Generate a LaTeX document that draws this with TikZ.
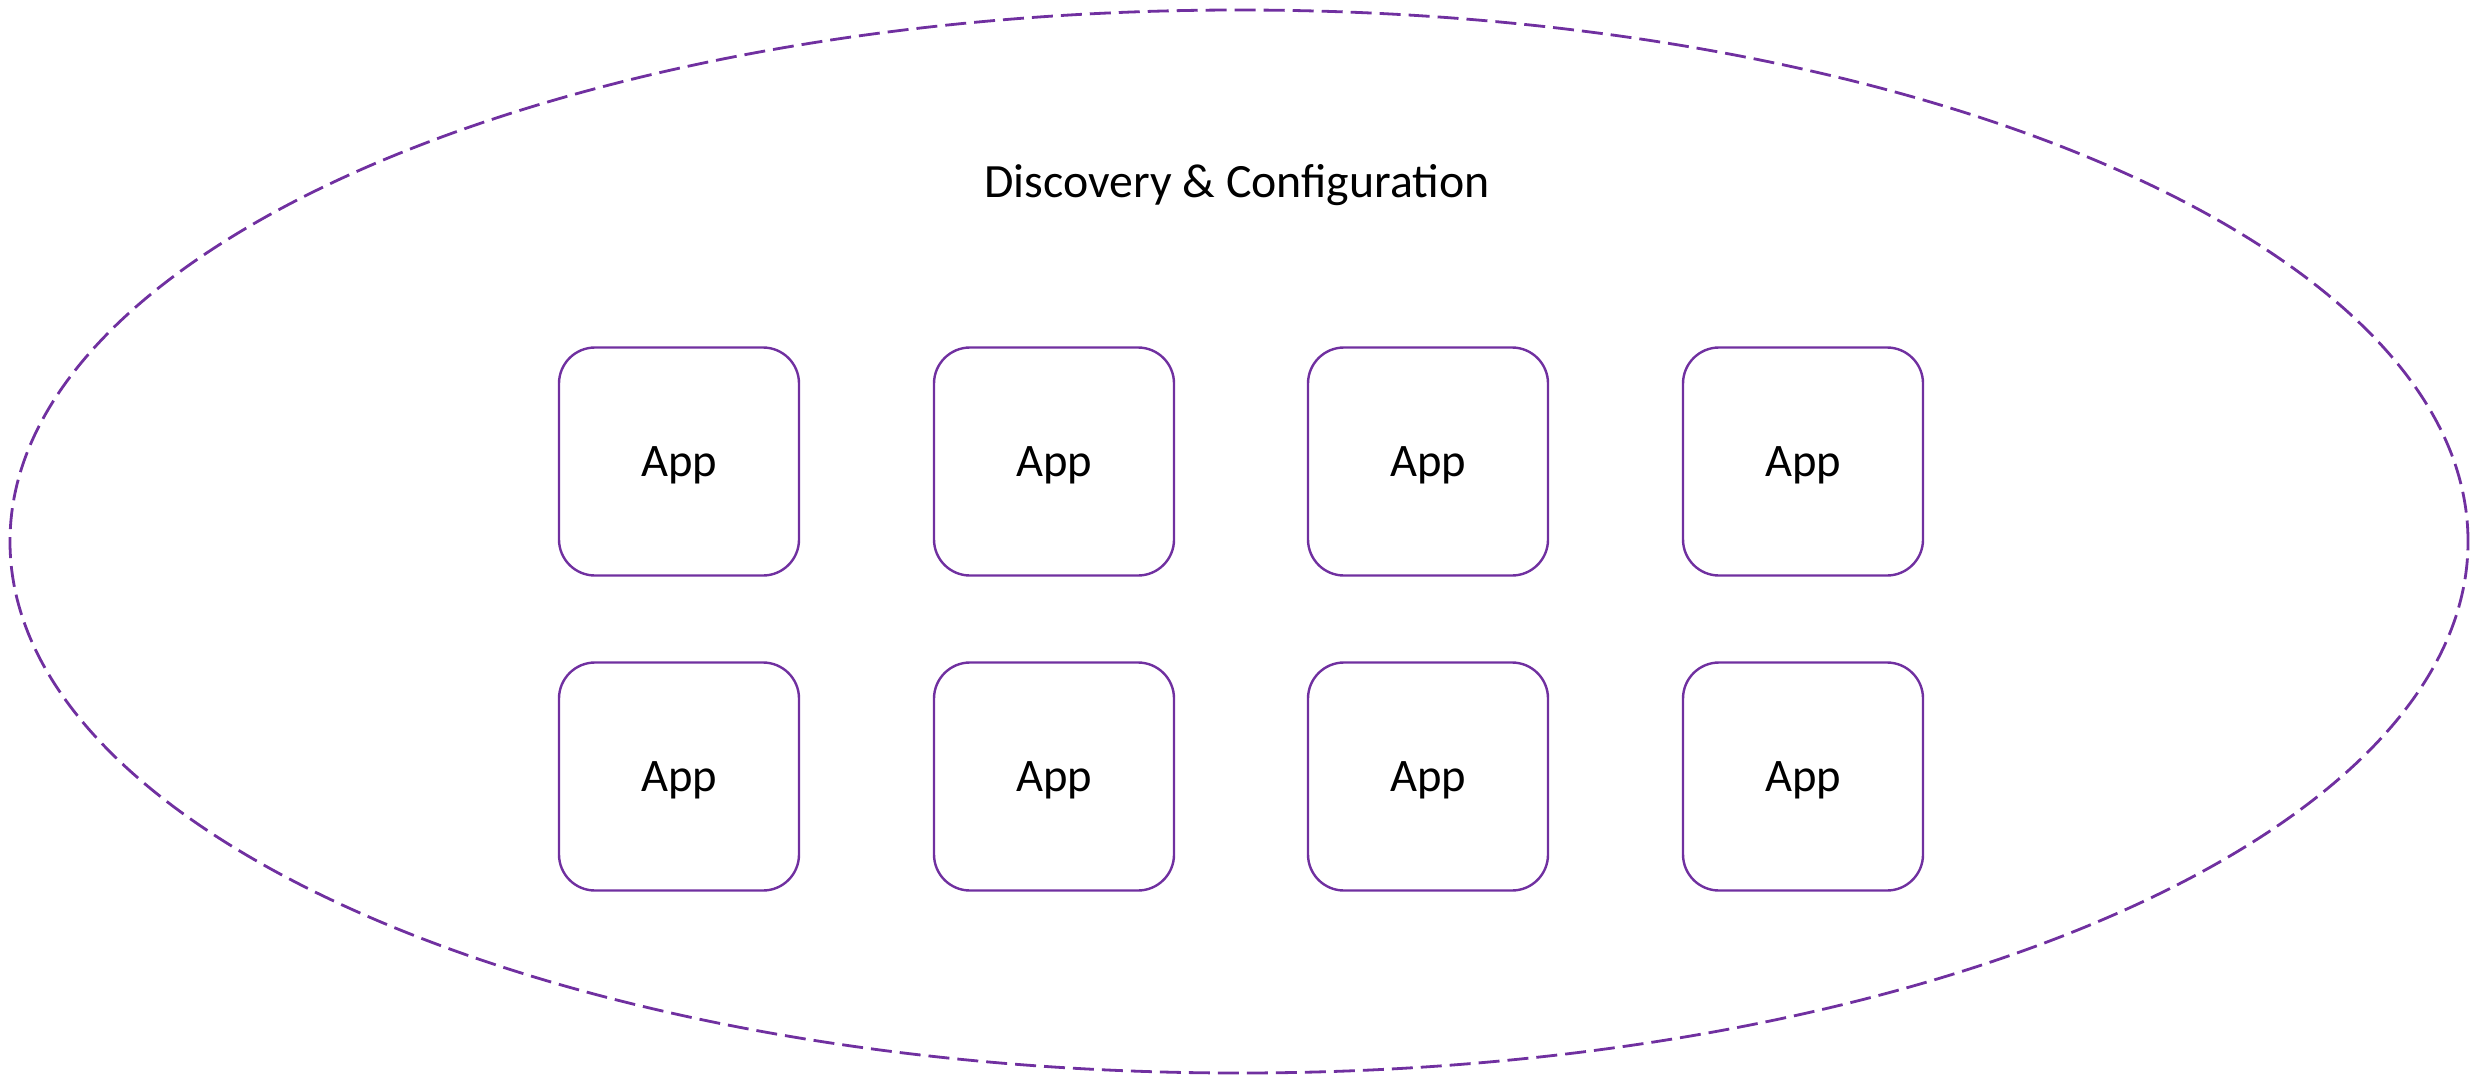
\documentclass[tikz,border=0pt]{standalone}
\usepackage{fontspec}
\setmainfont{Carlito}
\usetikzlibrary{shapes.geometric}
\definecolor{appPurple}{HTML}{7030A0}
\begin{document}
\begin{tikzpicture}[x=0.5pt,y=-0.5pt,
  appbox/.style={draw=appPurple, line width=1.2pt, rounded corners=18pt,
    minimum width=120pt, minimum height=114pt, inner sep=0pt,
    font=\fontsize{23.3}{28}\selectfont, text height=15pt, text depth=0pt},
  cloud/.style={draw=appPurple, line width=1.4pt, dash pattern=on 10.5pt off 4pt}]
\useasboundingbox (0,0) rectangle (2476,1081);
\node[cloud, ellipse, minimum width=1229pt, minimum height=531.5pt, inner sep=0pt] (zone) at (1239,541.5) {};
\node[anchor=base, font=\fontsize{23.9}{29}\selectfont, inner sep=0pt] (title) at (1237,197) {Discovery \& Configuration};
\node[appbox] (a1) at (679,461.5) {App};
\node[appbox] (a2) at (1054,461.5) {App};
\node[appbox] (a3) at (1428,461.5) {App};
\node[appbox] (a4) at (1803,461.5) {App};
\node[appbox] (b1) at (679,776.5) {App};
\node[appbox] (b2) at (1054,776.5) {App};
\node[appbox] (b3) at (1428,776.5) {App};
\node[appbox] (b4) at (1803,776.5) {App};
\end{tikzpicture}
\end{document}
